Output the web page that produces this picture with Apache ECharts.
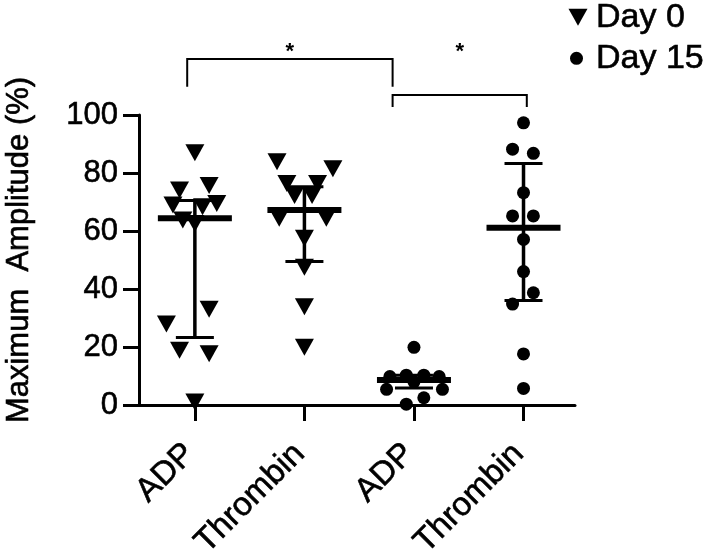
<!DOCTYPE html>
<html><head><meta charset="utf-8">
<script src="https://cdn.jsdelivr.net/npm/echarts@6/dist/echarts.min.js"></script>
<style>html,body{margin:0;padding:0;background:#fff}#c{width:709px;height:552px}</style>
</head><body><div id="c"></div>
<script>
// ---- data ----
const categories = ['ADP', 'Thrombin', 'ADP', 'Thrombin'];
const yTicks = [0, 20, 40, 60, 80, 100];
const seriesNames = ['Day 0', 'Day 15'];

// Day 0
const day0ADP        = [87, 74.1, 75.7, 69, 69.5, 68.4, 63.8, 62.6, 33, 27.9, 18.9, 17.7, 1];
const day0ADPJitter  = [0, -0.14, 0.13, -0.2, 0.2, 0.07, -0.11, 0, 0.13, -0.26, -0.14, 0.13, 0];
const day0Thr        = [83.9, 81.5, 76.4, 76.4, 72.2, 72.2, 64.4, 64.4, 57.5, 47.5, 33.9, 19.9];
const day0ThrJitter  = [-0.25, 0.26, -0.16, 0.12, -0.09, 0.07, -0.23, 0.2, 0, 0, 0, 0];
// Day 15
const day15ADP       = [19.9, 9.8, 10.3, 10.3, 9.8, 5.4, 5.4, 2.5, 0.3, 8];
const day15ADPJitter = [0, -0.22, -0.07, 0.09, 0.23, -0.25, 0.26, 0.09, -0.07, 0];
const day15Thr       = [97.3, 88.2, 86.8, 73.2, 65.2, 65.2, 57.1, 46, 38.7, 34.8, 17.6, 5.7];
const day15ThrJitter = [0, -0.1, 0.09, 0, -0.1, 0.09, 0, 0, 0.09, -0.1, 0, 0];

// median and interquartile range per group
const medianVals = [64.4, 67.2, 8.6, 61.1];
const lowerVals  = [23.3, 49.5, 5.9, 36];
const upperVals  = [70.5, 75.3, 10.3, 83.3];

// significance brackets (x in category units, y in %)
const bracketFrom  = [-0.07, 1.805];
const bracketTo    = [1.805, 3.03];
const bracketTop   = [119.3, 106.9];
const bracketFoot  = [109.7, 102.8];
const starLevel    = [121.6, 121.6];
const starText     = ['*', '*'];

// ---- build ----
function pts(groupIdx, vals, jit) { return vals.map((v, i) => [groupIdx + jit[i], v]); }
const day0Data = pts(0, day0ADP, day0ADPJitter).concat(pts(1, day0Thr, day0ThrJitter));
const day15Data = pts(2, day15ADP, day15ADPJitter).concat(pts(3, day15Thr, day15ThrJitter));
const summaryData = categories.map((c, i) => [i, medianVals[i], lowerVals[i], upperVals[i]]);
const bracketData = bracketFrom.map((f, i) => [f, bracketTo[i], bracketTop[i], bracketFoot[i], starLevel[i]]);

const FONT = '"Liberation Sans", Arial, sans-serif';
const BOLDEN = { textBorderColor: '#000', textBorderWidth: 0.6 };
const chart = echarts.init(document.getElementById('c'), null, { renderer: 'canvas' });

chart.setOption({
  animation: false,
  backgroundColor: '#fff',
  grid: { left: 139, right: 134, top: 115, bottom: 147, containLabel: false, outerBoundsMode: 'none' },
  legend: [
    { data: [{ name: seriesNames[0], icon: 'path://M0,0L19,0L9.5,17Z' }], orient: 'vertical', left: 568.5, top: 0, padding: 0,
      itemWidth: 19, itemHeight: 17, symbolRotate: 0, selectedMode: false,
      textStyle: Object.assign({ fontSize: 34, fontFamily: FONT, color: '#000', padding: [0, 0, 0, 3.5] }, BOLDEN) },
    { data: [{ name: seriesNames[1], icon: 'circle' }], orient: 'vertical', left: 570, top: 41, padding: 0,
      itemWidth: 13, itemHeight: 13, symbolRotate: 0, selectedMode: false,
      textStyle: Object.assign({ fontSize: 34, fontFamily: FONT, color: '#000', padding: [0, 0, 0, 8] }, BOLDEN) }
  ],
  xAxis: {
    type: 'value', min: -0.51, max: 3.47,
    splitLine: { show: false },
    axisLine: { show: true, onZero: false, lineStyle: { color: '#000', width: 3 } },
    axisTick: { show: true, customValues: [0, 1, 2, 3], length: 16, lineStyle: { color: '#000', width: 3 } },
    axisLabel: Object.assign({ show: true, customValues: [0, 1, 2, 3], rotate: 45, margin: 39, padding: [0, 7, 0, 0],
      formatter: v => categories[Math.round(v)], fontSize: 33, fontFamily: FONT, color: '#000' }, BOLDEN)
  },
  yAxis: {
    type: 'value', min: 0, max: 100, interval: 20,
    name: 'Maximum  Amplitude (%)', nameLocation: 'middle', nameRotate: 90, nameGap: 104,
    nameTextStyle: Object.assign({ fontSize: 31, fontFamily: FONT, color: '#000', padding: [0, 0, 0, 20] }, BOLDEN),
    splitLine: { show: false },
    axisLine: { show: true, onZero: false, lineStyle: { color: '#000', width: 3 } },
    axisTick: { show: true, length: 16, lineStyle: { color: '#000', width: 3 } },
    axisLabel: Object.assign({ fontSize: 31, fontFamily: FONT, color: '#000', margin: 21, formatter: v => String(v) }, BOLDEN)
  },
  series: [
    { name: seriesNames[0], type: 'scatter', data: day0Data, symbol: 'triangle', symbolRotate: 180,
      symbolSize: [19, 17], itemStyle: { color: '#000', opacity: 1 }, z: 2 },
    { name: seriesNames[1], type: 'scatter', data: day15Data, symbol: 'circle',
      symbolSize: 13, itemStyle: { color: '#000', opacity: 1 }, z: 2 },
    { name: 'summary', type: 'custom', data: summaryData, encode: { x: 0, y: [1, 2, 3] }, z: 3, silent: true,
      renderItem: (params, api) => {
        const x = api.value(0);
        const m = api.coord([x, api.value(1)]);
        const lo = api.coord([x, api.value(2)]);
        const hi = api.coord([x, api.value(3)]);
        const st = { stroke: '#000', fill: null };
        return { type: 'group', children: [
          { type: 'line', shape: { x1: m[0], y1: lo[1], x2: m[0], y2: hi[1] }, style: Object.assign({ lineWidth: 3.5 }, st) },
          { type: 'line', shape: { x1: m[0] - 19, y1: lo[1], x2: m[0] + 19, y2: lo[1] }, style: Object.assign({ lineWidth: 3 }, st) },
          { type: 'line', shape: { x1: m[0] - 19, y1: hi[1], x2: m[0] + 19, y2: hi[1] }, style: Object.assign({ lineWidth: 3 }, st) },
          { type: 'line', shape: { x1: m[0] - 37, y1: m[1], x2: m[0] + 37, y2: m[1] }, style: Object.assign({ lineWidth: 6 }, st) }
        ]};
      }
    },
    { name: 'brackets', type: 'custom', data: bracketData, encode: { x: [0, 1], y: [2, 3, 4] }, clip: false, z: 3, silent: true,
      renderItem: (params, api) => {
        const a = api.coord([api.value(0), api.value(2)]);
        const b = api.coord([api.value(1), api.value(2)]);
        const fa = api.coord([api.value(0), api.value(3)]);
        const s = api.coord([(api.value(0) + api.value(1)) / 2, api.value(4)]);
        return { type: 'group', children: [
          { type: 'polyline', shape: { points: [[a[0], fa[1]], a, b, [b[0], fa[1]]] },
            style: { stroke: '#000', lineWidth: 2, fill: null } },
          { type: 'text', style: { text: starText[params.dataIndex], x: s[0], y: s[1], align: 'center', verticalAlign: 'middle',
            font: 'bold 22px ' + FONT, fill: '#000' } }
        ]};
      }
    }
  ]
});
</script></body></html>
